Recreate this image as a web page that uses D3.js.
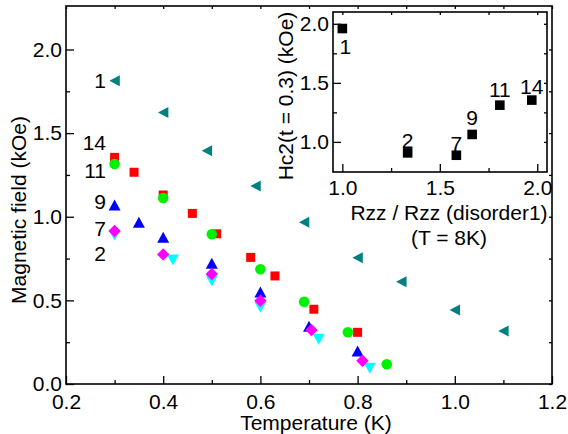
<!DOCTYPE html>
<html><head><meta charset="utf-8">
<script src="https://cdn.jsdelivr.net/npm/d3@7"></script>
<style>body{margin:0;background:#fff}svg text{font-family:"Liberation Sans",Arial,sans-serif;fill:#000}</style>
</head><body><svg id="c" width="568" height="434"></svg>
<script>
// ---- main chart data (Temperature K, Magnetic field kOe) ----
const s1T  = [0.3, 0.4, 0.49, 0.59, 0.69, 0.80, 0.89, 1.0, 1.1];
const s1H  = [1.813, 1.624, 1.395, 1.184, 0.967, 0.755, 0.612, 0.442, 0.317];
const s14T = [0.3, 0.34, 0.4, 0.46, 0.51, 0.58, 0.63, 0.71, 0.80];
const s14H = [1.355, 1.266, 1.13, 1.02, 0.898, 0.757, 0.646, 0.447, 0.309];
const s11T = [0.3, 0.4, 0.5, 0.6, 0.69, 0.78, 0.86];
const s11H = [1.315, 1.112, 0.895, 0.686, 0.492, 0.309, 0.118];
const s9T  = [0.3, 0.35, 0.4, 0.5, 0.6, 0.7, 0.8];
const s9H  = [1.07, 0.967, 0.877, 0.722, 0.55, 0.345, 0.197];
const s7T  = [0.3, 0.4, 0.5, 0.6, 0.705, 0.81];
const s7H  = [0.915, 0.775, 0.658, 0.498, 0.323, 0.139];
const s2T  = [0.3, 0.42, 0.5, 0.6, 0.72, 0.825];
const s2H  = [0.89, 0.742, 0.616, 0.459, 0.267, 0.094];
const seriesNames = ["1", "14", "11", "9", "7", "2"];
const seriesLabelH = [1.813, 1.441, 1.277, 1.09, 0.927, 0.777];
const xTicks = [0.2, 0.4, 0.6, 0.8, 1.0, 1.2];
const yTicks = [0.0, 0.5, 1.0, 1.5, 2.0];

// ---- inset data ----
const insetR  = [1.0, 1.335, 1.585, 1.666, 1.808, 1.972];
const insetHc = [1.96, 0.907, 0.887, 1.063, 1.311, 1.354];
const insetNames = ["1", "2", "7", "9", "11", "14"];
const insetXTicks = [1.0, 1.5, 2.0];
const insetYTicks = [1.0, 1.5, 2.0];

// ---- styling / layout ----
const FONT = 21;
const insetLabelDy = [18, -12, -12, -17, -16, -13];
const svg = d3.select("#c");
const M = {l: 66, r: 552, t: 6, b: 384};
const x = d3.scaleLinear().domain([0.2, 1.2]).range([M.l, M.r]);
const y = d3.scaleLinear().domain([0, 2.26]).range([M.b, M.t]);

function shape(kind) {
  switch (kind) {
    case "square": return "M-4.5,-4.5H4.5V4.5H-4.5Z";
    case "circle": return d3.symbol(d3.symbolCircle, Math.PI * 5.3 * 5.3)();
    case "up": return "M0,-5.5L6,5.5L-6,5.5Z";
    case "down": return "M0,5.5L6,-5.5L-6,-5.5Z";
    case "left": return "M-5.2,0L5.2,-5.5L5.2,5.5Z";
    case "diamond": return "M0,-6.2L6.2,0L0,6.2L-6.2,0Z";
  }
}

function drawAxes(g, xs, ys, xt, yt, xMinor, yMinor, fmt, xPad) {
  const [x0, x1] = xs.range(), [y0, y1] = ys.range();
  const ax = g.append("g");
  ax.append("g").attr("transform", `translate(0,${y0})`)
    .call(d3.axisBottom(xs).tickValues(xt).tickSize(-8).tickSizeOuter(0).tickPadding(xPad).tickFormat(fmt));
  ax.append("g").attr("transform", `translate(0,${y0})`)
    .call(d3.axisBottom(xs).tickValues(xMinor).tickSize(-4).tickSizeOuter(0).tickFormat(""));
  ax.append("g").attr("transform", `translate(${x0},0)`)
    .call(d3.axisLeft(ys).tickValues(yt).tickSize(-8).tickSizeOuter(0).tickPadding(4).tickFormat(fmt));
  ax.append("g").attr("transform", `translate(${x0},0)`)
    .call(d3.axisLeft(ys).tickValues(yMinor).tickSize(-4).tickSizeOuter(0).tickFormat(""));
  ax.append("g").attr("transform", `translate(0,${y1})`)
    .call(d3.axisTop(xs).tickValues(xt.concat(xMinor)).tickSize(-3).tickSizeOuter(0).tickFormat(""));
  ax.append("g").attr("transform", `translate(${x1},0)`)
    .call(d3.axisRight(ys).tickValues(yt.concat(yMinor)).tickSize(-3).tickSizeOuter(0).tickFormat(""));
  ax.selectAll(".domain").remove();
  ax.selectAll(".tick line").attr("stroke", "#000").attr("stroke-width", 1.3);
  ax.selectAll("text").attr("font-size", FONT).style("font-family", '"Liberation Sans",Arial,sans-serif');
  g.append("rect").attr("x", x0).attr("y", y1).attr("width", x1 - x0).attr("height", y0 - y1)
    .attr("fill", "none").attr("stroke", "#000").attr("stroke-width", 1.6);
}

const main = svg.append("g");
drawAxes(main, x, y, xTicks, yTicks,
  [0.3, 0.5, 0.7, 0.9, 1.1], [0.25, 0.75, 1.25, 1.75], d3.format(".1f"), 10);

main.append("text").attr("x", 316).attr("y", 430).attr("text-anchor", "middle")
  .attr("font-size", FONT).text("Temperature (K)");
main.append("text").attr("transform", "translate(26,210) rotate(-90)").attr("text-anchor", "middle")
  .attr("font-size", FONT).text("Magnetic field (kOe)");

const series = [
  {T: s1T, H: s1H, color: "#008080", kind: "left"},
  {T: s14T, H: s14H, color: "#ff0000", kind: "square"},
  {T: s11T, H: s11H, color: "#00f000", kind: "circle"},
  {T: s9T, H: s9H, color: "#0000ff", kind: "up"},
  {T: s2T, H: s2H, color: "#00ffff", kind: "down"},
  {T: s7T, H: s7H, color: "#ff00ff", kind: "diamond"}
];
series.forEach(s => {
  main.append("g").selectAll("path").data(s.T.map((t, i) => [t, s.H[i]])).join("path")
    .attr("d", shape(s.kind)).attr("fill", s.color)
    .attr("transform", d => `translate(${x(d[0])},${y(d[1])})`);
});
main.append("g").selectAll("text").data(seriesNames).join("text")
  .attr("x", x(0.2) + 40).attr("y", (d, i) => y(seriesLabelH[i]))
  .attr("dy", "0.35em").attr("text-anchor", "end").attr("font-size", FONT).text(d => d);

// ---- inset ----
const xi = d3.scaleLinear().domain([0.952, 2.05]).range([333, 547]);
const yi = d3.scaleLinear().domain([0.745, 2.1]).range([172, 12]);
const inset = svg.append("g");
drawAxes(inset, xi, yi, insetXTicks, insetYTicks, [1.25, 1.75], [1.25, 1.75], d3.format(".1f"), 8);
inset.append("g").selectAll("path").data(insetR.map((r, i) => [r, insetHc[i]])).join("path")
  .attr("d", "M-4.8,-4.8H4.8V4.8H-4.8Z").attr("fill", "#000")
  .attr("transform", d => `translate(${xi(d[0])},${yi(d[1])})`);
inset.append("g").selectAll("text").data(insetNames).join("text")
  .attr("x", (d, i) => xi(insetR[i]) + (i === 0 ? 3 : 0))
  .attr("y", (d, i) => yi(insetHc[i]) + insetLabelDy[i])
  .attr("dy", "0.35em").attr("text-anchor", "middle").attr("font-size", FONT).text(d => d);
inset.append("text").attr("x", 449).attr("y", 220).attr("text-anchor", "middle")
  .attr("font-size", FONT).text("Rzz / Rzz (disorder1)");
inset.append("text").attr("x", 449).attr("y", 245).attr("text-anchor", "middle")
  .attr("font-size", FONT).text("(T = 8K)");
inset.append("text").attr("transform", "translate(293,96) rotate(-90)").attr("text-anchor", "middle")
  .attr("font-size", FONT).text("Hc2(t = 0.3) (kOe)");
</script></body></html>
